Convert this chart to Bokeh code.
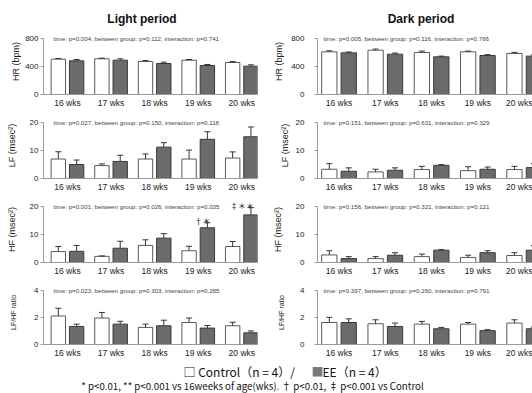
import numpy as np
from bokeh.plotting import figure
from bokeh.layouts import column, row
from bokeh.models import Range1d, FixedTicker, ColumnDataSource, Whisker, TeeHead
from bokeh.core.properties import value
from bokeh.embed import file_html
from bokeh.resources import INLINE

# ---------------- data ----------------
weeks = ["16 wks", "17 wks", "18 wks", "19 wks", "20 wks"]
period_titles = ["Light period", "Dark period"]

# Light period
light_hr_ctrl = [505, 510, 471, 490, 457]
light_hr_ctrl_sem = [9, 9, 15, 10, 14]
light_hr_ee = [481, 490, 443, 414, 405]
light_hr_ee_sem = [19, 20, 19, 15, 19]

light_lf_ctrl = [6.95, 4.6, 6.95, 6.95, 7.3]
light_lf_ctrl_sem = [2.6, 0.6, 1.8, 3.2, 2.2]
light_lf_ee = [5.0, 6.1, 11.2, 14.0, 14.9]
light_lf_ee_sem = [1.6, 2.2, 1.6, 2.7, 3.5]

light_hf_ctrl = [3.9, 2.2, 6.1, 4.2, 5.7]
light_hf_ctrl_sem = [1.8, 0.15, 2.0, 1.6, 1.8]
light_hf_ee = [4.0, 5.1, 8.7, 12.4, 17.0]
light_hf_ee_sem = [2.1, 2.5, 1.6, 1.8, 2.6]

light_ratio_ctrl = [2.1, 1.95, 1.26, 1.62, 1.38]
light_ratio_ctrl_sem = [0.57, 0.41, 0.24, 0.33, 0.26]
light_ratio_ee = [1.33, 1.5, 1.38, 1.21, 0.86]
light_ratio_ee_sem = [0.17, 0.21, 0.41, 0.19, 0.14]

# Dark period
dark_hr_ctrl = [610, 633, 600, 610, 586]
dark_hr_ctrl_sem = [14, 16, 20, 10, 16]
dark_hr_ee = [595, 576, 538, 557, 548]
dark_hr_ee_sem = [12, 16, 10, 12, 18]

dark_lf_ctrl = [3.3, 2.35, 3.2, 2.8, 3.2]
dark_lf_ctrl_sem = [2.0, 0.95, 1.15, 1.4, 1.15]
dark_lf_ee = [2.6, 2.95, 4.7, 3.3, 3.9]
dark_lf_ee_sem = [1.2, 0.85, 0.25, 0.8, 1.4]

dark_hf_ctrl = [2.7, 1.4, 2.1, 1.8, 2.5]
dark_hf_ctrl_sem = [1.5, 0.7, 0.9, 0.8, 1.0]
dark_hf_ee = [1.4, 2.6, 4.4, 3.5, 4.4]
dark_hf_ee_sem = [0.7, 0.9, 0.2, 0.7, 1.6]

dark_ratio_ctrl = [1.62, 1.53, 1.5, 1.5, 1.58]
dark_ratio_ctrl_sem = [0.38, 0.29, 0.2, 0.12, 0.24]
dark_ratio_ee = [1.62, 1.33, 1.16, 1.02, 1.16]
dark_ratio_ee_sem = [0.27, 0.25, 0.1, 0.07, 0.12]

y_labels = ["HR (bpm)", "LF (msec²)", "HF (msec²)", "LF/HF ratio"]
y_ticks = [[0, 400, 800], [0, 10, 20], [0, 10, 20], [0, 2, 4]]

light_stats = [
    "time: p=0.004, between group: p=0.112, interaction: p=0.741",
    "time: p=0.027, between group: p=0.150, interaction: p=0.118",
    "time: p=0.001, between group: p=0.026, interaction: p=0.035",
    "time: p=0.023, between group: p=0.303, interaction: p=0.285",
]
dark_stats = [
    "time: p=0.005, between group: p=0.116, interaction: p=0.766",
    "time: p=0.151, between group: p=0.631, interaction: p=0.329",
    "time: p=0.156, between group: p=0.321, interaction: p=0.121",
    "time: p=0.397, between group: p=0.260, interaction: p=0.791",
]

# significance marks (light HF, EE group)
sig_weeks = ["19 wks", "20 wks"]
sig_marks = ["†＊", "‡＊＊"]

legend_ctrl = "□ Control（n = 4）/ "
legend_ee_box = "■"
legend_ee = "EE（n = 4）"
footnote = "* p<0.01, ** p<0.001 vs 16weeks of age(wks). † p<0.01, ‡ p<0.001 vs Control"

light = [
    (light_hr_ctrl, light_hr_ctrl_sem, light_hr_ee, light_hr_ee_sem),
    (light_lf_ctrl, light_lf_ctrl_sem, light_lf_ee, light_lf_ee_sem),
    (light_hf_ctrl, light_hf_ctrl_sem, light_hf_ee, light_hf_ee_sem),
    (light_ratio_ctrl, light_ratio_ctrl_sem, light_ratio_ee, light_ratio_ee_sem),
]
dark = [
    (dark_hr_ctrl, dark_hr_ctrl_sem, dark_hr_ee, dark_hr_ee_sem),
    (dark_lf_ctrl, dark_lf_ctrl_sem, dark_lf_ee, dark_lf_ee_sem),
    (dark_hf_ctrl, dark_hf_ctrl_sem, dark_hf_ee, dark_hf_ee_sem),
    (dark_ratio_ctrl, dark_ratio_ctrl_sem, dark_ratio_ee, dark_ratio_ee_sem),
]

# ---------------- style ----------------
FONT = "Liberation Sans"
JP = "Noto Sans CJK JP"
AXIS_C = "#9a9a9a"
CTRL_FILL, CTRL_LINE = "white", "#5a5a5a"
EE_FILL, EE_LINE = "#6b6b6b", "#3a3a3a"
ERR_C = "#333333"
OFF, BW = 0.21, 0.33

FRAME_H = 66
TOP_PX = 56
panel_heights = [84, 84, 84, 80]

# per-column geometry
geom = {
    0: dict(width=262, mbl=43, mbr=5, xr=(-0.55, 4.36), stand=2, txt_off=10),
    1: dict(width=270, mbl=55, mbr=0, xr=(-0.465, 4.18), stand=10, txt_off=6),
}
# axis label standoffs per [col][row]
als = {0: [1, 10, 10, 14], 1: [4, 3, 10, 12]}
label_sizes = ["9px", "9px", "9px", "7px"]


def make_panel(col, r, series, stats, marks=None):
    g = geom[col]
    ticks = y_ticks[r]
    top = ticks[-1]
    h = panel_heights[r]
    p = figure(width=g["width"], height=h,
               x_range=Range1d(*g["xr"]),
               y_range=Range1d(0, top * FRAME_H / TOP_PX),
               output_backend="svg", toolbar_location=None,
               min_border_left=g["mbl"], min_border_right=g["mbr"],
               min_border_top=0, min_border_bottom=h - FRAME_H,
               outline_line_color=None, background_fill_color="white")
    p.grid.visible = False
    ctrl, csem, ee, esem = series
    xs = np.arange(len(weeks))
    src = ColumnDataSource(dict(
        xc=xs - OFF, xe=xs + OFF,
        c=ctrl, ch=np.array(ctrl) + np.array(csem),
        e=ee, eh=np.array(ee) + np.array(esem)))
    p.vbar(x="xc", top="c", bottom=0, width=BW, source=src,
           fill_color=CTRL_FILL, line_color=CTRL_LINE, line_width=1)
    p.vbar(x="xe", top="e", bottom=0, width=BW, source=src,
           fill_color=EE_FILL, line_color=EE_LINE, line_width=1)
    for base, lo, hi in (("xc", "c", "ch"), ("xe", "e", "eh")):
        w = Whisker(base=base, lower=lo, upper=hi, source=src, dimension="height",
                    line_color=ERR_C, line_width=1, lower_head=None,
                    upper_head=TeeHead(size=6, line_color=ERR_C, line_width=1),
                    level="overlay")
        p.add_layout(w)

    # stats text
    p.text(x=[g["xr"][0]], y=[top], text=[stats], x_offset=g["txt_off"],
           text_font=value(FONT), text_font_size="6.2px", text_color="#444444",
           text_baseline="middle", text_align="left")

    if marks:
        idx = [weeks.index(w) for w in marks[0]]
        mx = [i + OFF for i in idx]
        my = [ee[i] + esem[i] for i in idx]
        p.text(x=mx, y=my, text=marks[1], x_offset=3, y_offset=-2,
               text_font=value(JP), text_font_size="8px", text_color="#222222",
               text_baseline="middle", text_align="right")

    # axes
    xa = p.xaxis[0]
    xa.ticker = FixedTicker(ticks=list(range(len(weeks))))
    xa.major_label_overrides = {i: w for i, w in enumerate(weeks)}
    xa.axis_line_color = AXIS_C
    xa.major_tick_line_color = None
    xa.major_tick_out = 0
    xa.major_tick_in = 0
    xa.minor_tick_line_color = None
    xa.major_label_text_font = FONT
    xa.major_label_text_font_size = "8.5px"
    xa.major_label_text_color = "#222222"
    xa.major_label_standoff = 3

    ya = p.yaxis[0]
    ya.ticker = FixedTicker(ticks=ticks)
    ya.bounds = (0, top)
    ya.axis_line_color = AXIS_C
    ya.major_tick_line_color = AXIS_C
    ya.major_tick_out = 3
    ya.major_tick_in = 0
    ya.minor_tick_line_color = None
    ya.major_label_text_font = FONT
    ya.major_label_text_font_size = "8px"
    ya.major_label_text_color = "#222222"
    ya.major_label_standoff = g["stand"]
    ya.axis_label = y_labels[r]
    ya.axis_label_text_font = FONT
    ya.axis_label_text_font_style = "normal"
    ya.axis_label_text_font_size = label_sizes[r]
    ya.axis_label_text_color = "#222222"
    ya.axis_label_standoff = als[col][r]
    return p


def blank(width, height):
    p = figure(width=width, height=height, x_range=Range1d(0, width),
               y_range=Range1d(height, 0), output_backend="svg",
               toolbar_location=None, x_axis_location=None, y_axis_location=None,
               min_border_left=0, min_border_right=0, min_border_top=0,
               min_border_bottom=0, outline_line_color=None)
    p.grid.visible = False
    return p


header = blank(532, 28)
header.text(x=[141.5, 420.5], y=[18, 18], text=period_titles,
            text_font=value(FONT), text_font_size="12px", text_font_style="bold",
            text_color="#111111", text_align="center", text_baseline="middle")

rows = []
for r in range(4):
    lm = (sig_weeks, sig_marks) if r == 2 else None
    rows.append(row(make_panel(0, r, light[r], light_stats[r], lm),
                    make_panel(1, r, dark[r], dark_stats[r])))

FOOT_TOP = 28 + sum(panel_heights)
footer = blank(532, 393 - FOOT_TOP)
footer.text(x=[183], y=[370.7 - FOOT_TOP], text=[legend_ctrl], text_font=value(JP),
            text_font_size="12px", text_color="#111111",
            text_align="left", text_baseline="middle")
footer.text(x=[311], y=[370.7 - FOOT_TOP], text=[legend_ee_box], text_font=value(JP),
            text_font_size="12px", text_color="#7a7a7a",
            text_align="left", text_baseline="middle")
footer.text(x=[322], y=[370.7 - FOOT_TOP], text=[legend_ee], text_font=value(JP),
            text_font_size="12px", text_color="#111111",
            text_align="left", text_baseline="middle")
footer.text(x=[252], y=[385.6 - FOOT_TOP], text=[footnote], text_font=value(JP),
            text_font_size="9.7px", text_color="#111111",
            text_align="center", text_baseline="middle")

layout = column(header, *rows, footer)
open("out.html", "w").write(file_html(layout, INLINE))
